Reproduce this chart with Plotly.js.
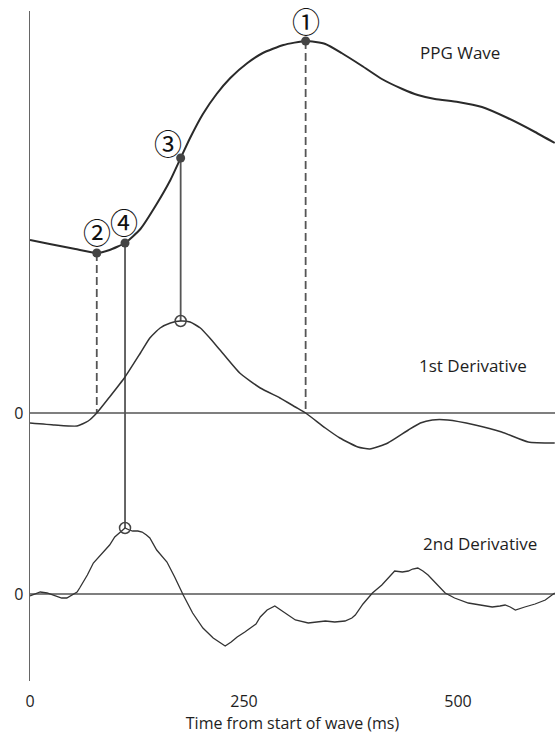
<!DOCTYPE html>
<html>
<head>
<meta charset="utf-8">
<script src="https://cdn.plot.ly/plotly-3.0.1.min.js"></script>
<style>html,body{margin:0;padding:0;background:#fff;overflow:hidden}#chart{width:555px;height:735px}</style>
</head>
<body>
<div id="chart"></div>
<script>
// ---- Data (time in ms, amplitudes in arbitrary units) ----
const ppgTime = [0,23,53,78,93,111,129,148,164,176,187,202,218,234,254,272,296,322,345,364,388,411,435,453,473,500,528,558,590,613];
const ppgValue = [20,16,11,7,10,17,31,56,80,102,122,146,166,182,197,207,215,219,216,207,194,181,171,165,161,158,153,142,128,117];

const d1Time = [0,29,55,68,78,93,111,129,140,152,164,176,187,199,210,222,245,269,292,310,322,345,362,383,397,418,442,456,470,488,520,551,582,613];
const d1Value = [-10,-12,-13,-8,0,16,36,60,75,85,90,92,91,85,75,63,40,25,15,6,0,-15,-25,-34,-36,-30,-17,-10,-7,-7,-12,-19,-29,-30];

const d2Time = [0,6,12,20,29,37,43,50,55,58,67,74,85,93,99,105,111,116,120,126,131,136,140,148,154,160,169,179,190,202,214,222,228,235,242,251,257,264,269,277,286,298,310,325,336,345,356,368,376,380,389,400,411,421,426,435,442,447,453,459,465,475,485,496,512,526,540,549,555,561,567,578,590,602,613];
const d2Value = [-2,0,2,1,-2,-4,-4,0,2,6,19,31,41,49,57,62,66,64,63,63,62,59,56,44,38,32,17,-1,-19,-34,-44,-49,-52,-48,-43,-38,-34,-30,-23,-16,-12,-19,-26,-29,-28,-27,-28,-27,-24,-21,-10,1,9,19,23,22,23,25,26,23,19,10,1,-4,-9,-11,-13,-12,-11,-13,-16,-13,-10,-6,1];

// Labelled fiducial points on the PPG wave (index into ppg arrays)
const pointLabels = ['①','②','③','④'];
const pointIndex = [17, 3, 9, 5];          // peak, foot, max slope, max acceleration
const seriesLabels = ['PPG Wave','1st Derivative','2nd Derivative'];
const xTicks = [0, 250, 500];
const xTitle = 'Time from start of wave (ms)';

// ---- Vertical stacking offsets ----
const OFF_PPG = 334, OFF_D1 = 181, OFF_D2 = 0;
const add = (arr, o) => arr.map(v => v + o);
const FONT = 'Open Sans, Noto Sans, sans-serif';
const INK = '#1e1e1e';
const GREY = '#555';

function interp(tArr, vArr, t) {
  for (let i = 0; i < tArr.length - 1; i++) {
    if (t >= tArr[i] && t <= tArr[i+1]) {
      const f = (t - tArr[i]) / (tArr[i+1] - tArr[i]);
      return vArr[i] + f * (vArr[i+1] - vArr[i]);
    }
  }
  return vArr[vArr.length-1];
}

const traces = [];
const conn = [
  {i: 17, to: 'd1', dash: '8px,4px'},
  {i: 3,  to: 'd1', dash: '8px,4px'},
  {i: 9,  to: 'd1', dash: 'solid'},
  {i: 5,  to: 'd2', dash: 'solid'}
];
conn.forEach(c => {
  const t = ppgTime[c.i];
  const yTop = ppgValue[c.i] + OFF_PPG;
  const yBot = c.to === 'd1' ? interp(d1Time, d1Value, t) + OFF_D1 : interp(d2Time, d2Value, t) + OFF_D2;
  traces.push({x: [t, t], y: [yTop, yBot], mode: 'lines', line: {color: GREY, width: 1.8, dash: c.dash}, hoverinfo: 'skip', showlegend: false});
});

traces.push({x: ppgTime, y: add(ppgValue, OFF_PPG), mode: 'lines', line: {color: '#2a2a2a', width: 2, shape: 'spline', smoothing: 0.5}, name: seriesLabels[0], showlegend: false});
traces.push({x: d1Time, y: add(d1Value, OFF_D1), mode: 'lines', line: {color: '#333', width: 1.5, shape: 'spline', smoothing: 0.5}, name: seriesLabels[1], showlegend: false});
traces.push({x: d2Time, y: add(d2Value, OFF_D2), mode: 'lines', line: {color: '#333', width: 1.3}, name: seriesLabels[2], showlegend: false});

traces.push({x: pointIndex.map(i => ppgTime[i]), y: pointIndex.map(i => ppgValue[i] + OFF_PPG), mode: 'markers',
  marker: {color: '#444', size: 9}, showlegend: false, hoverinfo: 'skip'});
const t3 = ppgTime[9], t4 = ppgTime[5];
traces.push({x: [t3, t4], y: [interp(d1Time, d1Value, t3) + OFF_D1, interp(d2Time, d2Value, t4) + OFF_D2], mode: 'markers',
  marker: {color: 'rgba(255,255,255,0)', size: 11, line: {color: '#444', width: 1.5}}, showlegend: false, hoverinfo: 'skip'});

const shifts = [[0, 20], [0, 21], [-13, 15], [-1, 21]];
const annotations = pointIndex.map((idx, k) => ({
  x: ppgTime[idx], y: ppgValue[idx] + OFF_PPG, xref: 'x', yref: 'y', text: pointLabels[k], showarrow: false,
  xshift: shifts[k][0], yshift: shifts[k][1], font: {family: 'Noto Sans CJK JP, DejaVu Sans', size: 28, color: '#111'}
}));
annotations.push({x: 502, y: 542, xref: 'x', yref: 'y', text: seriesLabels[0], showarrow: false, font: {family: FONT, size: 17, color: INK}});
annotations.push({x: 517, y: 229, xref: 'x', yref: 'y', text: seriesLabels[1], showarrow: false, font: {family: FONT, size: 17, color: INK}});
annotations.push({x: 526, y: 51, xref: 'x', yref: 'y', text: seriesLabels[2], showarrow: false, font: {family: FONT, size: 17, color: INK}});

const layout = {
  width: 555, height: 735,
  margin: {l: 30, r: 0, t: 11, b: 54},
  paper_bgcolor: '#fff', plot_bgcolor: '#fff',
  font: {family: FONT, size: 16, color: INK},
  showlegend: false,
  xaxis: {range: [0, 613.3], tickvals: xTicks, ticktext: xTicks.map(String), ticks: '', showgrid: false, zeroline: false, showline: false,
    ticklabelstandoff: 9, tickfont: {size: 16, color: INK}, title: {text: xTitle, font: {size: 16, color: INK}, standoff: 0}, fixedrange: true},
  yaxis: {range: [-87, 583], tickvals: [OFF_D1, OFF_D2], ticktext: ['0', '0'], ticks: '', showgrid: false, zeroline: false,
    showline: true, linecolor: '#666', linewidth: 1.5, ticklabelstandoff: 2, tickfont: {size: 16, color: INK}, fixedrange: true},
  shapes: [OFF_D1, OFF_D2].map(y0 => ({type: 'line', xref: 'paper', yref: 'y', x0: 0, x1: 1, y0: y0, y1: y0, line: {color: GREY, width: 1.5}, layer: 'below'})),
  annotations: annotations
};

Plotly.newPlot('chart', traces, layout, {staticPlot: true, displayModeBar: false});
</script>
</body>
</html>
